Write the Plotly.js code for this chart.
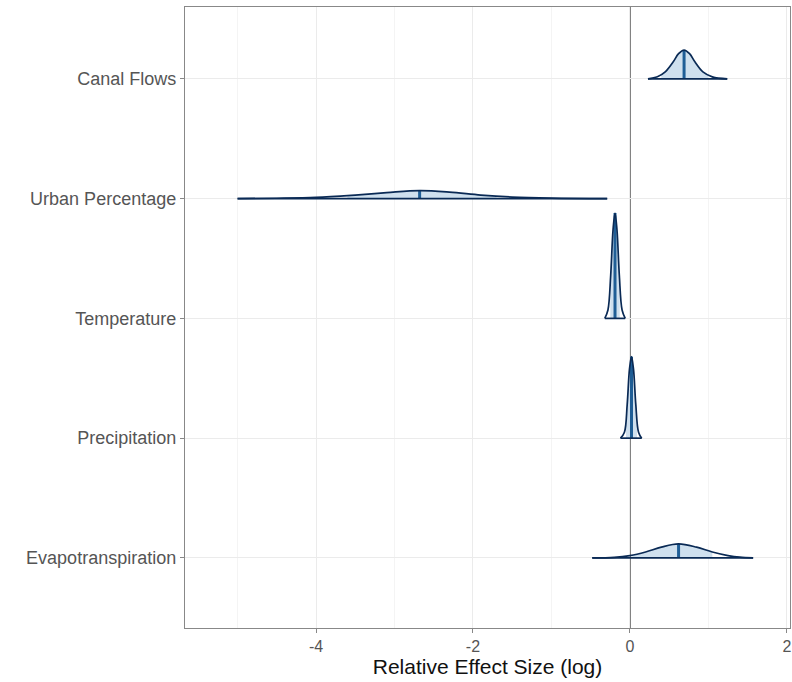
<!DOCTYPE html>
<html>
<head>
<meta charset="utf-8">
<script src="https://cdn.plot.ly/plotly-3.0.1.min.js"></script>
<style>html,body{margin:0;padding:0;background:#fff;}#chart{width:792px;height:682px;}</style>
</head>
<body>
<div id="chart"></div>
<script>
// Categories (bottom to top)
const categories = ["Evapotranspiration", "Precipitation", "Temperature", "Urban Percentage", "Canal Flows"];

// Density curves (x = effect, h = curve height in row units)
const evapoX = [-0.48, -0.2, 0.0, 0.2, 0.4, 0.62, 0.85, 1.05, 1.25, 1.4, 1.57];
const evapoH = [0, 0.005, 0.02, 0.05, 0.09, 0.117, 0.09, 0.05, 0.02, 0.006, 0];
const precipX = [-0.12, -0.07, -0.035, -0.005, 0.02, 0.045, 0.075, 0.11, 0.15];
const precipH = [0, 0.05, 0.28, 0.58, 0.68, 0.58, 0.28, 0.05, 0];
const tempX = [-0.32, -0.28, -0.245, -0.215, -0.19, -0.165, -0.135, -0.1, -0.06];
const tempH = [0, 0.07, 0.36, 0.74, 0.88, 0.74, 0.36, 0.07, 0];
const urbanX = [-5.0, -4.5, -4.0, -3.5, -3.1, -2.68, -2.3, -1.9, -1.5, -1.0, -0.29];
const urbanH = [0, 0.003, 0.01, 0.03, 0.05, 0.067, 0.055, 0.03, 0.013, 0.004, 0];
const canalX = [0.23, 0.35, 0.45, 0.55, 0.62, 0.69, 0.76, 0.83, 0.93, 1.05, 1.24];
const canalH = [0, 0.017, 0.058, 0.14, 0.21, 0.24, 0.21, 0.14, 0.058, 0.017, 0];

// Medians and shaded intervals
const medians = [0.62, 0.02, -0.19, -2.68, 0.69];
const shadeLo = [0.03, -0.05, -0.25, -3.6, 0.40];
const shadeHi = [1.05, 0.09, -0.13, -1.7, 1.00];

const curvesX = [evapoX, precipX, tempX, urbanX, canalX];
const curvesH = [evapoH, precipH, tempH, urbanH, canalH];

const light = "#cfe0ee", dark = "#0a2a55", midHi = "#1f5e96";

function interp(xs, hs, x) {
  for (let i = 0; i < xs.length - 1; i++) {
    if (x >= xs[i] && x <= xs[i + 1]) {
      const t = (x - xs[i]) / (xs[i + 1] - xs[i]);
      return hs[i] + t * (hs[i + 1] - hs[i]);
    }
  }
  return 0;
}

const traces = [];
categories.forEach((c, k) => {
  const base = k + 1;
  const xs = curvesX[k], hs = curvesH[k];
  const sx = [shadeLo[k]], sy = [base + interp(xs, hs, shadeLo[k])];
  xs.forEach((x, i) => { if (x > shadeLo[k] && x < shadeHi[k]) { sx.push(x); sy.push(base + hs[i]); } });
  sx.push(shadeHi[k]); sy.push(base + interp(xs, hs, shadeHi[k]));
  traces.push({x: [shadeLo[k], shadeHi[k]], y: [base, base], mode: "lines", line: {width: 0, color: "rgba(0,0,0,0)"}, hoverinfo: "skip", showlegend: false});
  traces.push({x: sx, y: sy, mode: "lines", fill: "tonexty", fillcolor: light, line: {width: 0, shape: "spline", color: "rgba(0,0,0,0)"}, hoverinfo: "skip", showlegend: false});
  traces.push({x: [medians[k], medians[k]], y: [base, base + interp(xs, hs, medians[k])], mode: "lines", line: {color: midHi, width: 3}, hoverinfo: "skip", showlegend: false});
  traces.push({x: xs, y: hs.map(h => base + h), mode: "lines", line: {color: dark, width: 1.7, shape: "spline"}, hoverinfo: "skip", showlegend: false});
  traces.push({x: [xs[0], xs[xs.length - 1]], y: [base, base], mode: "lines", line: {color: dark, width: 1.7}, hoverinfo: "skip", showlegend: false});
});

const layout = {
  width: 792, height: 682,
  margin: {l: 185, r: 2, t: 7, b: 54},
  paper_bgcolor: "#fff", plot_bgcolor: "#fff",
  font: {family: "Liberation Sans, Arial, sans-serif", color: "#4d4d4d", size: 14},
  xaxis: {
    range: [-5.67, 2.04], tickvals: [-4, -2, 0, 2], ticktext: ["-4", "-2", "0", "2"],
    showgrid: true, gridcolor: "#ebebeb", gridwidth: 1,
    minor: {tickvals: [-5, -3, -1, 1], showgrid: true, gridcolor: "#f4f4f4", gridwidth: 1},
    zeroline: false, showline: true, mirror: true, linecolor: "#888", linewidth: 1.2,
    ticks: "outside", ticklen: 4, tickcolor: "#888",
    tickfont: {size: 16, color: "#555"},
    title: {text: "Relative Effect Size (log)", font: {size: 21, color: "#111"}, standoff: 2}
  },
  yaxis: {
    range: [0.415, 5.6], tickvals: [1, 2, 3, 4, 5], ticktext: categories,
    showgrid: true, gridcolor: "#ebebeb", gridwidth: 1,
    zeroline: false, showline: true, mirror: true, linecolor: "#888", linewidth: 1.2,
    ticks: "outside", ticklen: 4, tickcolor: "#888",
    tickfont: {size: 18, color: "#555"}
  },
  shapes: [{type: "line", xref: "x", yref: "paper", x0: 0, x1: 0, y0: 0, y1: 1, line: {color: "#444", width: 1.5}, layer: "below"}],
  showlegend: false
};

Plotly.newPlot("chart", traces, layout, {displayModeBar: false, staticPlot: true});
</script>
</body>
</html>
